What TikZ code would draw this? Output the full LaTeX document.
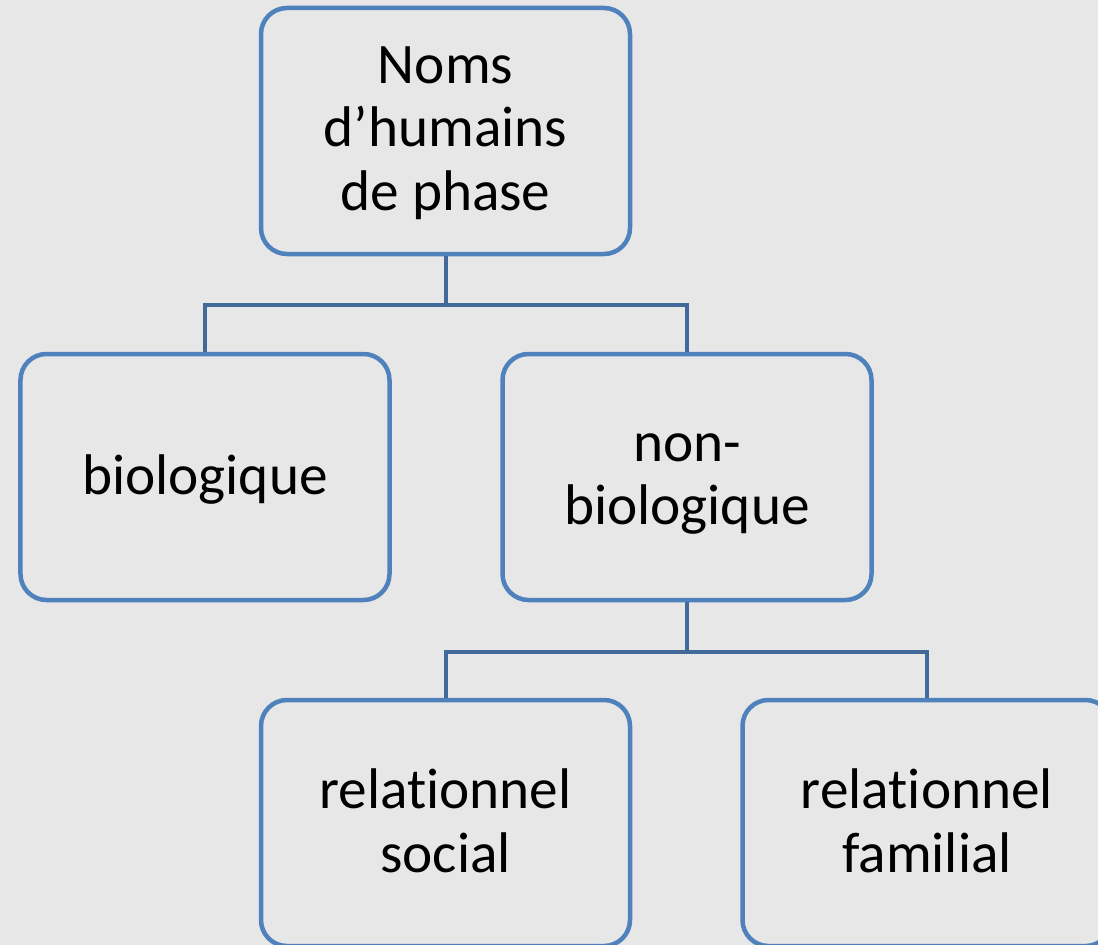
\documentclass[tikz,border=0pt]{standalone}
\usepackage{fontspec}
\setmainfont{Carlito}[RawFeature=-liga]
\definecolor{bg}{HTML}{E7E7E7}
\definecolor{boxblue}{HTML}{4F81BD}
\definecolor{linkblue}{HTML}{41699A}
\begin{document}
\begin{tikzpicture}[x=1bp,y=-1bp,
  box/.style={draw=boxblue, line width=4.5bp, rounded corners=26bp, fill=bg,
    minimum width=369bp, minimum height=246bp, inner sep=0pt},
  txt/.style={inner sep=0pt, align=center, font=\fontsize{57.5}{64}\selectfont},
  link/.style={draw=linkblue, line width=4bp}]
\fill[bg] (0,0) rectangle (1098,945);
\useasboundingbox (0,0) rectangle (1098,945);
\clip (0,0) rectangle (1098,945);
\node[box] (top) at (445.5,131) {};
\node[box] (bio) at (205,477) {};
\node[box] (nonbio) at (687,477) {};
\node[box] (social) at (445.5,823) {};
\node[box] (familial) at (927,823) {};
\node[txt, yshift=-2bp] (ttop) at (top.center) {Noms\\d’humains\\de phase};
\node[txt, yshift=-3bp] (tbio) at (bio.center) {biologique};
\node[txt, yshift=-7bp] (tnonbio) at (nonbio.center) {non-\\biologique};
\node[txt, yshift=2bp] (tsocial) at (social.center) {relationnel\\social};
\node[txt, yshift=2bp] (tfamilial) at (familial.center) {relationnel\\familial};
\draw[link] (top.south) -- ++(0,49) coordinate (j1) -| (bio.north);
\draw[link] (j1) -| (nonbio.north);
\draw[link] (nonbio.south) -- ++(0,50) coordinate (j2) -| (social.north);
\draw[link] (j2) -| (familial.north);
\end{tikzpicture}
\end{document}
